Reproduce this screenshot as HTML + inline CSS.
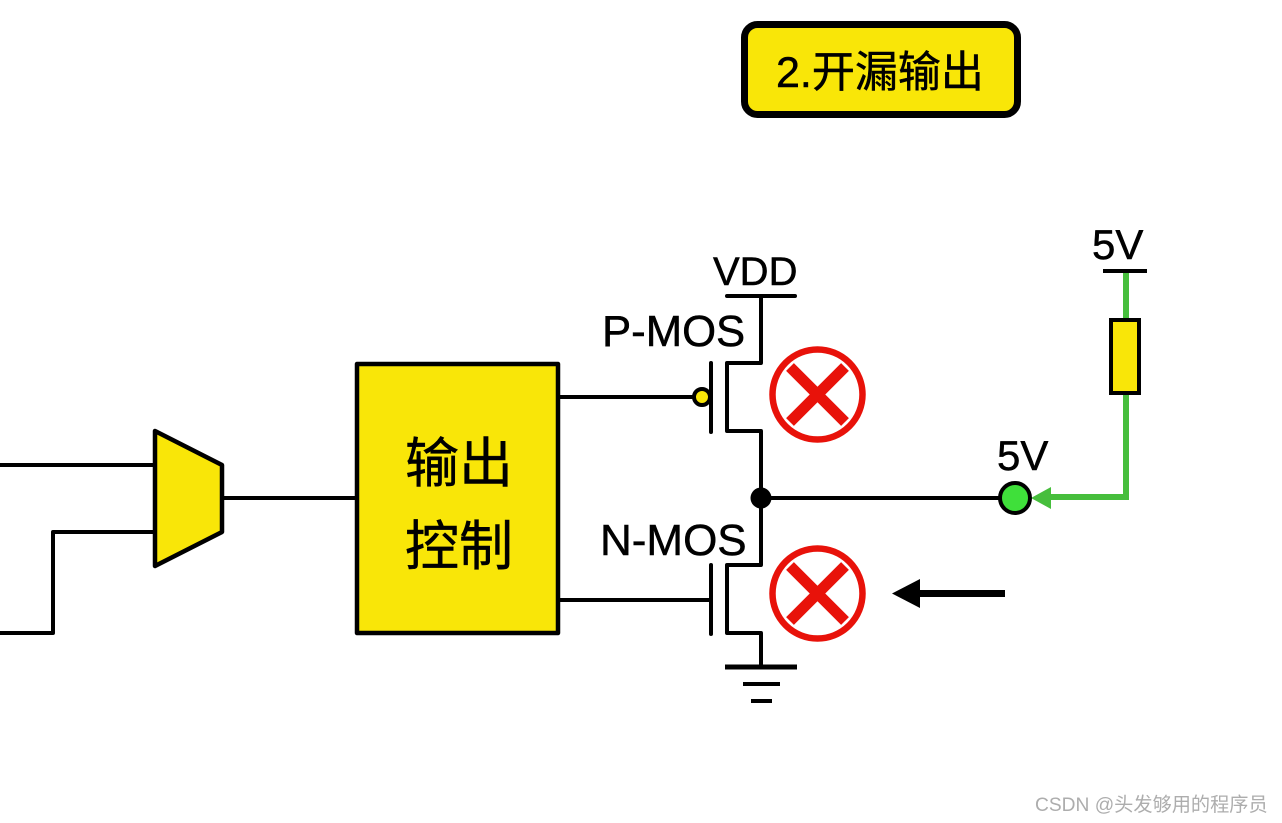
<!DOCTYPE html>
<html>
<head>
<meta charset="utf-8">
<style>
html,body{margin:0;padding:0;background:#fff;width:1282px;height:823px;overflow:hidden}
svg{display:block}
text{font-family:"Liberation Sans","Noto Sans CJK SC",sans-serif;fill:#000;stroke:#000;stroke-width:.5px}
</style>
</head>
<body>
<svg width="1282" height="823" viewBox="0 0 1282 823" xmlns="http://www.w3.org/2000/svg">
<rect width="1282" height="823" fill="#fff"/>
<!-- badge -->
<rect x="744.500" y="24.500" width="273" height="90" rx="13" fill="#f9e608" stroke="#000" stroke-width="7"/>
<text x="776" y="87" font-size="43">2.开漏输出</text>
<!-- wires left -->
<g fill="none" stroke="#000" stroke-width="4" stroke-linejoin="round" stroke-linecap="round">
<path d="M-5 465H155"/>
<path d="M-5 633H53V532H155"/>
<path d="M222 498H357"/>
<path d="M558 397H695"/>
<path d="M558 600H711"/>
<path d="M155 431L222 465V532L155 566Z" fill="#f9e608" stroke-width="4.500"/>
<rect x="357" y="364" width="201" height="269" fill="#f9e608" stroke-width="4.500"/>
<!-- P-MOS -->
<path d="M727 296H795" stroke-width="4"/>
<path d="M761 296V363H727V431H761V565H727V633H761V667"/>
<path d="M711 363V432"/>
<circle cx="702" cy="397" r="8" fill="#f9e608"/>
<!-- N-MOS -->
<path d="M711 565V634"/>
<!-- output -->
<path d="M761 498H1000"/>
</g>
<!-- ground -->
<rect x="725" y="664.500" width="72" height="5"/>
<rect x="743" y="682" width="37" height="4"/>
<rect x="751" y="699" width="21" height="4"/>
<circle cx="761" cy="498" r="10.500"/>
<!-- red crosses -->
<g fill="none" stroke="#e8120a">
<circle cx="817.500" cy="394.500" r="45" stroke-width="6.500"/>
<path d="M790 367L845 422M845 367L790 422" stroke-width="11"/>
<circle cx="817.500" cy="593.500" r="45" stroke-width="6.500"/>
<path d="M790 566L845 621M845 566L790 621" stroke-width="11"/>
</g>
<!-- black arrow -->
<rect x="919" y="590" width="86" height="7"/>
<path d="M892 593.500L920 579V608Z"/>
<!-- green net -->
<path d="M1126 272V497H1045" fill="none" stroke="#46be3c" stroke-width="6"/>
<path d="M1031 498L1051 487V509Z" fill="#46be3c"/>
<circle cx="1015" cy="498" r="15" fill="#3fe03a" stroke="#000" stroke-width="4"/>
<rect x="1111" y="320" width="28" height="73" fill="#f9e608" stroke="#000" stroke-width="4"/>
<rect x="1103" y="269" width="44" height="4"/>
<!-- labels -->
<text x="713" y="285" font-size="40">VDD</text>
<text x="602" y="346" font-size="43.700">P-MOS</text>
<text x="600" y="555" font-size="44">N-MOS</text>
<text x="1092" y="259" font-size="42">5V</text>
<text x="997" y="470" font-size="42">5V</text>
<text x="405" y="482" font-size="54">输出</text>
<text x="405" y="565" font-size="54">控制</text>
<text x="1035" y="811" font-size="19.200" style="fill:#adadad;stroke:none">CSDN @头发够用的程序员</text>
</svg>
</body>
</html>
